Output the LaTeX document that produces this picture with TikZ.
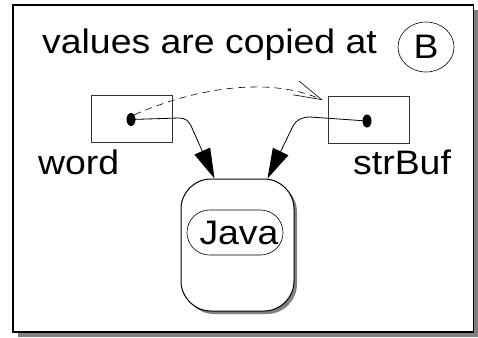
\documentclass[tikz,border=0pt]{standalone}
\usepackage{fontspec}
\setmainfont{Liberation Sans}[FakeStretch=1.1]
\usetikzlibrary{arrows.meta,shapes.geometric,shapes.misc,shadows}

\tikzset{
  lbl/.style={font=\fontsize{34}{40}\selectfont,inner sep=0pt},
  varbox/.style={draw=black!80,line width=0.8pt,minimum width=81pt,minimum height=47pt,inner sep=0pt},
  refdot/.style={ellipse,fill=black,minimum width=9pt,minimum height=13pt,inner sep=0pt},
  bigarrow/.style={line width=0.8pt,-{Triangle[length=30pt,width=17pt]}},
  copyarrow/.style={line width=0.6pt,dash pattern=on 7pt off 5pt,-{Straight Barb[length=28pt,width=15pt,line width=0.6pt]}}
}

\begin{document}
\begin{tikzpicture}[x=1pt,y=-1pt]
\useasboundingbox (0,0) rectangle (478,337);
% Frame with shadow
\fill[black!50] (18,10) rectangle (478,337);
\draw[fill=white,line width=1.2pt] (13,5) rectangle (473.5,332);

% Title
\node[lbl,anchor=base west] (title) at (42,53) {values are copied at};
\node[lbl,ellipse,draw,line width=0.6pt,minimum width=56pt,minimum height=50pt] (point) at (426,47) {B};

% Variables
\node[varbox] (wordbox) at (131.5,118.5) {};
\node[varbox] (strbox) at (368.5,120) {};
\node[refdot] (wdot) at (131,119.5) {};
\node[refdot] (sdot) at (367,121) {};
\node[lbl,anchor=base west] (wordlbl) at (38,174) {word};
\node[lbl,anchor=base west] (strlbl) at (353,174) {strBuf};

% String object
\node[draw,line width=1pt,fill=white,rounded corners=30pt,minimum width=113pt,minimum height=132pt,
  drop shadow={shadow xshift=3pt,shadow yshift=-3pt,fill=black!50,opacity=1}] (java) at (237.5,245) {};
\node[lbl,draw,line width=0.6pt,rounded rectangle,minimum width=96pt,minimum height=45pt] (javatxt) at (235,232.5) {\hspace{8pt}Java};

% References
\draw[bigarrow] (wdot.center) -- (179,118) .. controls (186,118) and (189,121) .. (192,128)
  -- ([xshift=34pt]java.north west);
\draw[bigarrow] (sdot.center) -- (310,117) .. controls (302,117) and (296,120) .. (293,126)
  -- ([xshift=-27pt]java.north east);

% Copy
\coordinate (copyend) at ([xshift=-5pt,yshift=-4pt]strbox.north west);
\draw[copyarrow] (wdot.north east) .. controls (195,88) and (270,76) .. (copyend);
\end{tikzpicture}
\end{document}
